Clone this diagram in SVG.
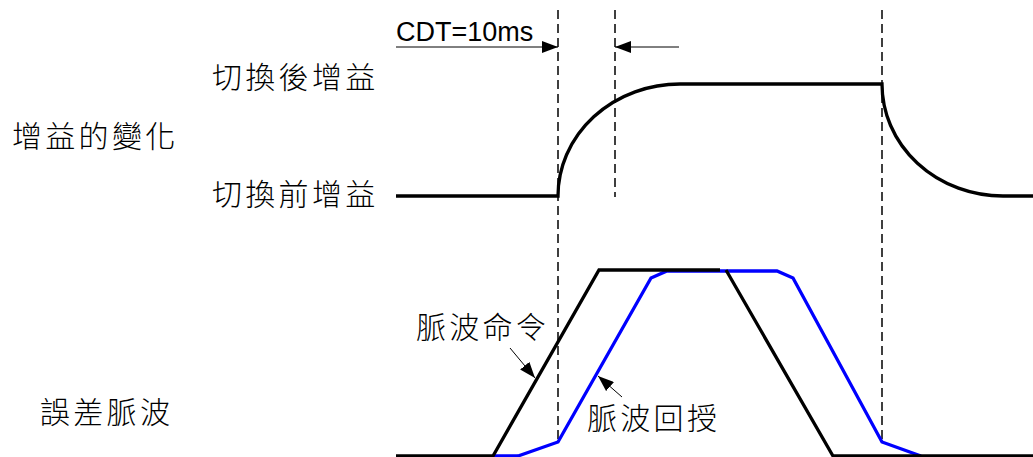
<svg xmlns="http://www.w3.org/2000/svg" width="1033" height="457" viewBox="0 0 1033 457">
<style>
.lbl{font-family:"Noto Sans CJK TC","Noto Sans CJK SC",sans-serif;font-size:30px;letter-spacing:3.3px;fill:#000;font-weight:300}
.cdt{font-family:"Liberation Sans",Arial,sans-serif;font-size:27px;fill:#000}
.dash{stroke:#000;stroke-width:1.5;stroke-dasharray:9,5;fill:none}
.thick{stroke:#000;stroke-width:3.3;fill:none;stroke-linejoin:miter}
.blue{stroke:#0000ff;stroke-width:3.3;fill:none}
.thin{stroke:#000;stroke-width:1;fill:none}
</style>
<defs>
<marker id="ah" markerWidth="16" markerHeight="12" refX="16" refY="6" orient="auto" markerUnits="userSpaceOnUse">
<path d="M0,0 L16,6 L0,12 Z" fill="#000"/>
</marker>
</defs>
<g id="labels">
<text class="lbl" x="212" y="88">切換後增益</text>
<text class="lbl" x="12" y="147">增益的變化</text>
<text class="lbl" x="212" y="205">切換前增益</text>
<text class="lbl" x="40" y="423">誤差脈波</text>
<text class="cdt" x="396" y="41">CDT=10ms</text>
</g>
<g id="connectors">
<line class="dash" x1="558" y1="10" x2="558" y2="442"/>
<line class="dash" x1="615" y1="10" x2="615" y2="197"/>
<line class="dash" x1="882" y1="10" x2="882" y2="442"/>
<line class="thin" x1="396" y1="47" x2="558" y2="47" marker-end="url(#ah)"/>
<line class="thin" x1="679" y1="47" x2="615" y2="47" marker-end="url(#ah)"/>
</g>
<g id="gain-curve">
<path class="thick" d="M396,196 L558,196 A122,112 0 0 1 680,84 L882,84 A121,112 0 0 0 1003,196 L1033,196"/>
</g>
<g id="pulse-feedback">
<polyline class="blue" points="493,456 518,456 558,442 651,278 667,271 777,271 793,278 882,442 921,456"/>
</g>
<g id="pulse-command">
<polyline class="thick" points="396,456 493,456 599,270 720,270"/>
<polyline class="thick" points="726,270 833,456 1033,456"/>
</g>
<g id="label-command">
<text class="lbl" x="416" y="338">脈波命令</text>
<line class="thin" x1="510" y1="348" x2="535" y2="378" marker-end="url(#ah)"/>
</g>
<g id="label-feedback">
<text class="lbl" x="587" y="429">脈波回授</text>
<line class="thin" x1="622" y1="397" x2="598" y2="376" marker-end="url(#ah)"/>
</g>
</svg>
